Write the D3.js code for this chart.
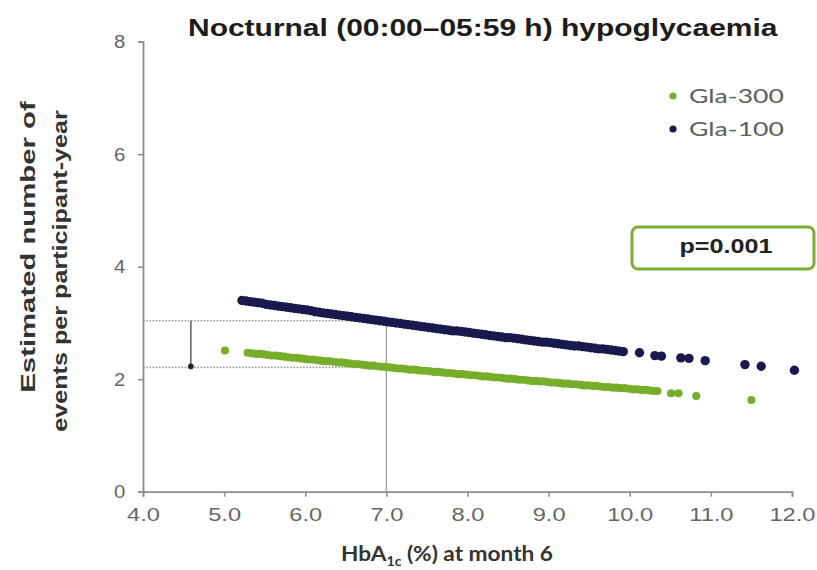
<!DOCTYPE html>
<html>
<head>
<meta charset="utf-8">
<script src="https://cdn.jsdelivr.net/npm/d3@7"></script>
<style>
  html, body { margin: 0; padding: 0; background: #ffffff; }
  svg { display: block; }
</style>
</head>
<body>
<svg id="chart" width="817" height="570"></svg>
<script>
// ---- data ----
const chartTitle = "Nocturnal (00:00\u201305:59 h) hypoglycaemia";
const xTickValues = [4, 5, 6, 7, 8, 9, 10, 11, 12];
const yTickValues = [0, 2, 4, 6, 8];
const seriesNames = ["Gla-300", "Gla-100"];
const pValueText = "p=0.001";

// estimated event rate per participant-year against HbA1c (%) at month 6
const gla300 = [
  [5.01,2.51],
  [5.29,2.47],[5.34,2.46],[5.39,2.45],[5.44,2.45],[5.49,2.44],[5.54,2.43],[5.59,2.42],[5.64,2.42],
  [5.69,2.41],[5.74,2.40],[5.79,2.39],[5.84,2.38],[5.89,2.38],[5.94,2.37],[5.99,2.36],[6.04,2.35],
  [6.09,2.35],[6.14,2.34],[6.19,2.33],[6.24,2.32],[6.29,2.32],[6.34,2.31],[6.39,2.30],[6.44,2.30],
  [6.49,2.29],[6.54,2.28],[6.59,2.27],[6.64,2.27],[6.69,2.26],[6.74,2.25],[6.79,2.24],[6.84,2.24],
  [6.89,2.23],[6.94,2.22],[6.99,2.22],[7.04,2.21],[7.09,2.20],[7.14,2.19],[7.19,2.19],[7.24,2.18],
  [7.29,2.17],[7.34,2.17],[7.39,2.16],[7.44,2.15],[7.49,2.15],[7.54,2.14],[7.59,2.13],[7.64,2.13],
  [7.69,2.12],[7.74,2.11],[7.79,2.11],[7.84,2.10],[7.89,2.09],[7.94,2.09],[7.99,2.08],[8.04,2.07],
  [8.09,2.07],[8.14,2.06],[8.19,2.05],[8.24,2.05],[8.29,2.04],[8.34,2.03],[8.39,2.03],[8.44,2.02],
  [8.49,2.01],[8.54,2.01],[8.59,2.00],[8.64,1.99],[8.69,1.99],[8.74,1.98],[8.79,1.97],[8.84,1.97],
  [8.89,1.96],[8.94,1.96],[8.99,1.95],[9.04,1.94],[9.09,1.94],[9.14,1.93],[9.19,1.92],[9.24,1.92],
  [9.29,1.91],[9.34,1.91],[9.39,1.90],[9.44,1.89],[9.49,1.89],[9.54,1.88],[9.59,1.88],[9.64,1.87],
  [9.69,1.86],[9.74,1.86],[9.79,1.85],[9.84,1.85],[9.89,1.84],[9.94,1.84],[9.99,1.83],[10.04,1.82],
  [10.09,1.82],[10.14,1.81],[10.19,1.81],[10.24,1.80],[10.29,1.79],[10.34,1.79],
  [10.51,1.75],[10.60,1.75],[10.82,1.70],[11.50,1.63]
];

const gla100 = [
  [5.22,3.40],[5.27,3.39],[5.32,3.38],[5.37,3.37],[5.42,3.36],[5.47,3.35],[5.52,3.33],[5.57,3.32],
  [5.62,3.31],[5.67,3.30],[5.72,3.29],[5.77,3.28],[5.82,3.27],[5.87,3.26],[5.92,3.25],[5.97,3.24],
  [6.02,3.23],[6.07,3.22],[6.12,3.20],[6.17,3.19],[6.22,3.18],[6.27,3.17],[6.32,3.16],[6.37,3.15],
  [6.42,3.14],[6.47,3.13],[6.52,3.12],[6.57,3.11],[6.62,3.10],[6.67,3.09],[6.72,3.08],[6.77,3.07],
  [6.82,3.06],[6.87,3.05],[6.92,3.04],[6.97,3.03],[7.02,3.02],[7.07,3.01],[7.12,3.00],[7.17,2.99],
  [7.22,2.98],[7.27,2.97],[7.32,2.96],[7.37,2.95],[7.42,2.94],[7.47,2.93],[7.52,2.92],[7.57,2.91],
  [7.62,2.90],[7.67,2.89],[7.72,2.88],[7.77,2.87],[7.82,2.86],[7.87,2.86],[7.92,2.85],[7.97,2.84],
  [8.02,2.83],[8.07,2.82],[8.12,2.81],[8.17,2.80],[8.22,2.79],[8.27,2.78],[8.32,2.77],[8.37,2.76],
  [8.42,2.75],[8.47,2.74],[8.52,2.74],[8.57,2.73],[8.62,2.72],[8.67,2.71],[8.72,2.70],[8.77,2.69],
  [8.82,2.68],[8.87,2.67],[8.92,2.66],[8.97,2.66],[9.02,2.65],[9.07,2.64],[9.12,2.63],[9.17,2.62],
  [9.22,2.61],[9.27,2.60],[9.32,2.59],[9.37,2.59],[9.42,2.58],[9.47,2.57],[9.52,2.56],[9.57,2.55],
  [9.62,2.54],[9.67,2.54],[9.72,2.53],[9.77,2.52],[9.82,2.51],[9.87,2.50],[9.92,2.49],
  [10.12,2.47],[10.31,2.42],[10.39,2.41],[10.63,2.38],[10.73,2.37],[10.93,2.33],
  [11.42,2.26],[11.62,2.23],[12.03,2.16]
];

// rates read at the HbA1c reference value (Gla-300, Gla-100)
const referenceHbA1c = 7.0;
const referenceRates = [2.21, 3.04];
const bracketHbA1c = 4.59;

// ---- layout ----
const svg = d3.select("#chart");
const GREEN = "#76ae2a";
const NAVY = "#181a4e";
const AXIS = "#8c8c8c";
const GUIDE = "#9a9a9a";

const x = d3.scaleLinear().domain([4, 12]).range([143, 792]);
const y = d3.scaleLinear().domain([0, 8]).range([491.7, 41.7]);

// horizontally widen a text element around a pivot x so it spans the given width
function widen(sel, width, pivotX) {
  const bb = sel.node().getBBox();
  const s = width / bb.width;
  const px = pivotX === undefined ? bb.x : pivotX;
  sel.attr("transform", `translate(${px},0) scale(${s},1) translate(${-px},0)`);
}

// ---- guide lines at the reference HbA1c ----
const guides = svg.append("g");
guides.selectAll("line.ref")
  .data(referenceRates)
  .join("line")
  .attr("class", "ref")
  .attr("x1", x(4)).attr("x2", x(referenceHbA1c))
  .attr("y1", d => y(d)).attr("y2", d => y(d))
  .attr("stroke", GUIDE)
  .attr("stroke-width", 1.6)
  .attr("stroke-dasharray", "1.6,1.6");

guides.append("line")
  .attr("x1", x(referenceHbA1c)).attr("x2", x(referenceHbA1c))
  .attr("y1", y(0)).attr("y2", y(d3.max(referenceRates)))
  .attr("stroke", GUIDE)
  .attr("stroke-width", 1.2);

// difference marker between the two rates
guides.append("line")
  .attr("x1", x(bracketHbA1c)).attr("x2", x(bracketHbA1c))
  .attr("y1", y(referenceRates[1])).attr("y2", y(referenceRates[0]))
  .attr("stroke", "#444")
  .attr("stroke-width", 1.3);
guides.append("circle")
  .attr("cx", x(bracketHbA1c)).attr("cy", y(referenceRates[0]) - 1)
  .attr("r", 2.8)
  .attr("fill", "#222");

// ---- axes ----
const xAxis = svg.append("g")
  .attr("transform", `translate(0,${y(0)})`)
  .call(d3.axisBottom(x).tickValues(xTickValues).tickFormat(d3.format(".1f")).tickSize(5).tickPadding(11));
const yAxis = svg.append("g")
  .attr("transform", `translate(${x(4)},0)`)
  .call(d3.axisLeft(y).tickValues(yTickValues).tickFormat(d3.format("d")).tickSize(5).tickPadding(11));

[xAxis, yAxis].forEach(g => {
  g.select(".domain").attr("stroke", AXIS).attr("stroke-width", 1.8);
  g.selectAll(".tick line").attr("stroke", AXIS).attr("stroke-width", 1.5);
  g.selectAll(".tick text")
    .attr("fill", "#666")
    .attr("font-family", "'Liberation Sans', Arial, sans-serif")
    .attr("font-size", 18.5);
});
xAxis.selectAll(".tick text").attr("transform", "scale(1.28,1)");
yAxis.selectAll(".tick text").attr("transform", "scale(1.1,1)");

// ---- series ----
const series = [
  { name: seriesNames[0], data: gla300, color: GREEN, r: 4.1 },
  { name: seriesNames[1], data: gla100, color: NAVY, r: 4.7 }
];
series.forEach(s => {
  svg.append("g")
    .selectAll("circle")
    .data(s.data)
    .join("circle")
    .attr("cx", d => x(d[0]))
    .attr("cy", d => y(d[1]))
    .attr("r", s.r)
    .attr("fill", s.color);
});

// ---- title ----
const titleText = svg.append("text")
  .attr("x", 188).attr("y", 36)
  .attr("font-family", "'Liberation Sans', Arial, sans-serif")
  .attr("font-weight", "bold")
  .attr("font-size", 23)
  .attr("fill", "#1c1c1c")
  .text(chartTitle);
widen(titleText, 590, 188);

// ---- legend ----
const legend = svg.append("g");
const legendY = [96, 129];
series.forEach((s, i) => {
  legend.append("circle")
    .attr("cx", 673).attr("cy", legendY[i])
    .attr("r", 3.6)
    .attr("fill", s.color);
  const t = legend.append("text")
    .attr("x", 689).attr("y", legendY[i])
    .attr("dy", "0.36em")
    .attr("font-family", "Lato, 'Open Sans', sans-serif")
    .attr("font-size", 19)
    .attr("fill", "#5e5e5e")
    .text(s.name);
  widen(t, 95, 689);
});

// ---- p-value box ----
svg.append("rect")
  .attr("x", 632).attr("y", 227)
  .attr("width", 182).attr("height", 42)
  .attr("rx", 6)
  .attr("fill", "#fff")
  .attr("stroke", "#7aae34")
  .attr("stroke-width", 3);
const pText = svg.append("text")
  .attr("x", 726).attr("y", 253)
  .attr("text-anchor", "middle")
  .attr("font-family", "'Liberation Sans', Arial, sans-serif")
  .attr("font-weight", "bold")
  .attr("font-size", 20)
  .attr("fill", "#222")
  .text(pValueText);
widen(pText, 93, 726);

// ---- axis titles ----
const xTitle = svg.append("text")
  .attr("x", 341).attr("y", 561)
  .attr("font-family", "Lato, 'Open Sans', sans-serif")
  .attr("font-weight", "bold")
  .attr("font-size", 21)
  .attr("fill", "#333");
xTitle.append("tspan").text("HbA");
xTitle.append("tspan").attr("font-size", 13).attr("dy", 5).text("1c");
xTitle.append("tspan").attr("dy", -5).text(" (%) at month 6");
widen(xTitle, 212, 341);

const yTitleLines = [
  { text: "Estimated number of", cx: 28, cy: 247, len: 292 },
  { text: "events per participant-year", cx: 60, cy: 271, len: 322 }
];
yTitleLines.forEach(l => {
  const g = svg.append("g").attr("transform", `translate(${l.cx},${l.cy}) rotate(-90)`);
  const t = g.append("text")
    .attr("x", 0).attr("y", 0)
    .attr("dy", "0.36em")
    .attr("text-anchor", "middle")
    .attr("font-family", "'Liberation Sans', Arial, sans-serif")
    .attr("font-weight", "bold")
    .attr("font-size", 20)
    .attr("fill", "#333")
    .text(l.text);
  widen(t, l.len, 0);
});
</script>
</body>
</html>
